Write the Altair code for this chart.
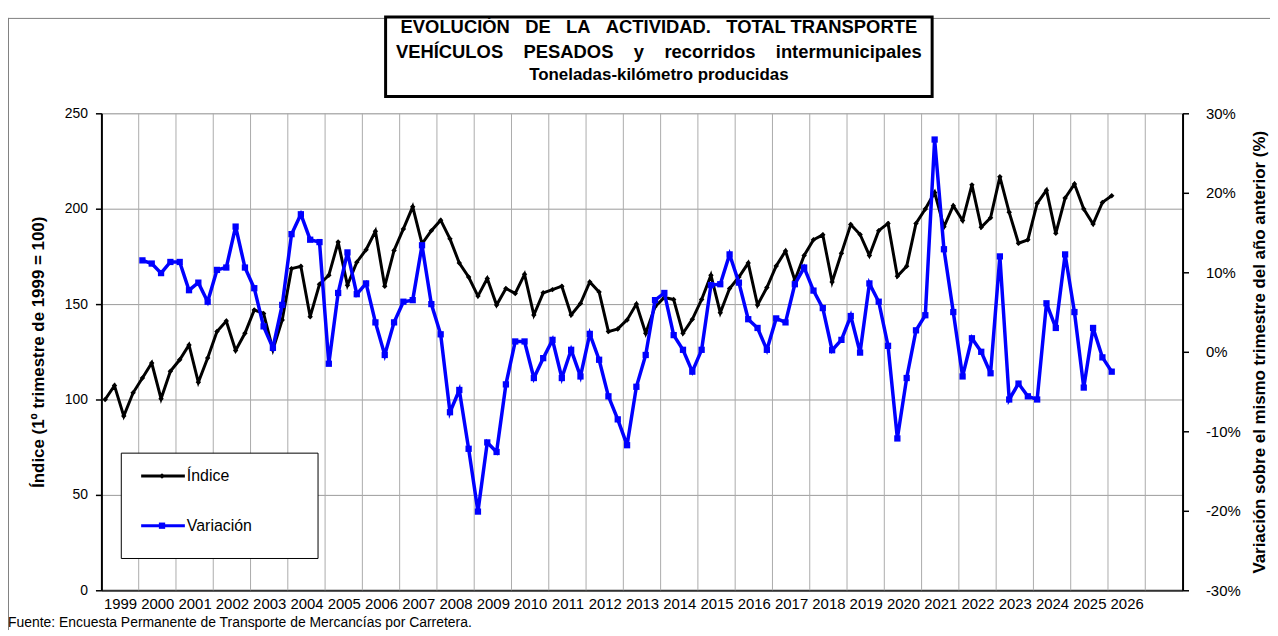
import altair as alt
import pandas as pd

# ---------------- data ----------------
label_years = list(range(1999, 2027))

indice = [
    100, 107.3, 91.3, 103.5,      # 1999
    111.3, 119.1, 100.4, 114.8,   # 2000
    120.8, 128.6, 109.0, 121.7,   # 2001
    135.6, 141.1, 125.7, 134.7,   # 2002
    146.9, 145.1, 126.0, 141.7,   # 2003
    168.6, 169.8, 143.4, 160.4,   # 2004
    165.1, 182.5, 159.9, 172.0,   # 2005
    178.5, 188.2, 159.4, 178.1,   # 2006
    189.4, 201.0, 181.6, 188.5,   # 2007
    194.0, 184.2, 171.5, 164.2,   # 2008
    154.2, 163.4, 149.5, 158.2,   # 2009
    155.6, 165.6, 144.3, 155.9,   # 2010
    157.6, 159.4, 144.3, 150.3,   # 2011
    161.6, 156.4, 135.6, 137.0,   # 2012
    141.7, 150.0, 134.7, 148.6,   # 2013
    153.5, 152.4, 134.7, 142.0,   # 2014
    152.4, 165.1, 145.5, 158.2,   # 2015
    164.2, 171.5, 149.5, 158.7,   # 2016
    170.0, 177.8, 162.5, 175.5,   # 2017
    183.7, 186.3, 161.6, 176.7,   # 2018
    191.7, 186.5, 175.5, 188.5,   # 2019
    192.3, 164.6, 169.8, 192.3,   # 2020
    199.8, 208.5, 190.5, 201.6,   # 2021
    193.8, 212.5, 190.3, 195.2,   # 2022
    216.7, 198.1, 181.9, 183.7,   # 2023
    202.8, 209.7, 187.1, 205.6,   # 2024
    212.9, 199.8, 192.0, 203.3,   # 2025
    206.8,                        # 2026
]

variacion = [
    11.5, 11.1, 9.9, 11.3,        # 2000
    11.3, 7.75, 8.7, 6.3,         # 2001
    10.3, 10.6, 15.75, 10.6,      # 2002
    8.0, 3.2, 0.5, 5.9,           # 2003
    14.8, 17.3, 14.1, 13.8,       # 2004
    -1.5, 7.4, 12.5, 7.25,        # 2005
    8.6, 3.7, -0.4, 3.7,          # 2006
    6.3, 6.5, 13.4, 6.0,          # 2007
    2.2, -7.6, -4.8, -12.2,       # 2008
    -20.1, -11.4, -12.6, -4.1,    # 2009
    1.3, 1.3, -3.3, -0.8,         # 2010
    1.5, -3.3, 0.25, -3.1,        # 2011
    2.25, -1.0, -5.6, -8.5,       # 2012
    -11.75, -4.4, -0.4, 6.5,      # 2013
    7.4, 2.1, 0.25, -2.5,         # 2014
    0.25, 8.4, 8.5, 12.25,        # 2015
    8.7, 4.1, 3.0, 0.25,          # 2016
    4.2, 3.7, 8.5, 10.6,          # 2017
    7.7, 5.5, 0.2, 1.5,           # 2018
    4.5, -0.1, 8.6, 6.3,          # 2019
    0.75, -10.9, -3.3, 2.7,       # 2020
    4.6, 26.7, 12.9, 5.0,         # 2021
    -3.1, 1.7, 0.0, -2.7,         # 2022
    12.0, -6.0, -4.0, -5.6,       # 2023
    -6.0, 6.1, 3.0, 12.25,        # 2024
    5.0, -4.5, 3.0, -0.7,         # 2025
    -2.5,                         # 2026
]

NB = "\u00a0"
title_lines = [
    (NB * 3).join(["EVOLUCIÓN", "DE", "LA", "ACTIVIDAD.", "TOTAL TRANSPORTE"]),
    (NB * 4).join(["VEHÍCULOS", "PESADOS", "y", "recorridos", "intermunicipales"]),
    "Toneladas-kilómetro producidas",
]
title_sizes = [18.5, 18.5, 17]
left_title = "Índice (1º trimestre de 1999 = 100)"
right_title = "Variación sobre el mismo trimestre del año anterior (%)"
source_text = "Fuente: Encuesta Permanente de Transporte de Mercancías por Carretera."
legend_names = ["Índice", "Variación"]

# ---------------- tables ----------------
df_i = pd.DataFrame({"t": [1999 + k / 4 for k in range(len(indice))], "v": indice})
df_v = pd.DataFrame({"t": [2000 + k / 4 for k in range(len(variacion))], "v": variacion})
grid_pos = [y - 0.1 for y in label_years[1:]] + [label_years[-1] + 0.9]
label_pos = [y + 0.4 for y in label_years]
one = pd.DataFrame({"a": [0]})

W, H = 1088, 480
FONT = "Liberation Sans"
BLUE = "#0000FF"

x_enc = alt.X(
    "t:Q",
    scale=alt.Scale(domain=[1998.9, 2027.9], nice=False, zero=False),
    axis=alt.Axis(
        values=label_pos, labelExpr="floor(datum.value)", grid=False, ticks=False,
        domainColor="#333333", domainWidth=2, labelFontSize=15, labelColor="black",
        labelOverlap=False, labelFlush=False, labelPadding=6, title=None, labelFont=FONT,
    ),
)

grid = alt.Chart(pd.DataFrame({"t": grid_pos})).mark_rule(
    color="#ababab", strokeWidth=1
).encode(x=x_enc, y=alt.value(0), y2=alt.value(H))

black = alt.Chart(df_i).mark_line(
    color="black", strokeWidth=3,
    point=alt.OverlayMarkDef(shape="diamond", filled=True, size=30, color="black"),
).encode(
    x=x_enc,
    y=alt.Y(
        "v:Q",
        scale=alt.Scale(domain=[0, 250], nice=False, zero=False),
        axis=alt.Axis(
            values=[0, 50, 100, 150, 200, 250], grid=True, gridColor="#9a9a9a", gridWidth=1,
            domainColor="black", domainWidth=2, tickColor="black", tickSize=6, tickWidth=1.5,
            labelFontSize=14, labelPadding=8, labelColor="black", labelFont=FONT,
            title=left_title, titleFontSize=17, titleFontWeight="bold", titleColor="black",
            titleFont=FONT, titlePadding=17,
        ),
    ),
)

blue = alt.Chart(df_v).mark_line(
    color=BLUE, strokeWidth=3.5,
    point=alt.OverlayMarkDef(shape="square", filled=True, size=40, color=BLUE),
).encode(
    x=x_enc,
    y=alt.Y(
        "v:Q",
        scale=alt.Scale(domain=[-30, 30], nice=False, zero=False),
        axis=alt.Axis(
            orient="right", values=[-30, -20, -10, 0, 10, 20, 30],
            labelExpr="datum.value + '%'", grid=False,
            domainColor="black", domainWidth=2, tickColor="black", tickSize=6, tickWidth=1.5,
            labelFontSize=15, labelPadding=17, labelColor="black", labelFont=FONT,
            title=right_title, titleFontSize=17, titleFontWeight="bold", titleColor="black",
            titleFont=FONT, titlePadding=28, titleAngle=270,
        ),
    ),
)

# ---------------- decorations ----------------
frame_l = alt.Chart(one).mark_rule(color="#808080", strokeWidth=1).encode(
    x=alt.value(-93.5), y=alt.value(-96), y2=alt.value(520))
frame_t = alt.Chart(one).mark_rule(color="#808080", strokeWidth=1).encode(
    x=alt.value(-94), x2=alt.value(1176), y=alt.value(-95.5))

title_box = alt.Chart(one).mark_rect(
    fill="white", stroke="black", strokeWidth=3
).encode(x=alt.value(286), x2=alt.value(836), y=alt.value(-97), y2=alt.value(-17))

title_y = [-87, -62, -39]
title_marks = [
    alt.Chart(one).mark_text(
        font=FONT, fontSize=fs, fontWeight="bold", color="black", align="center", baseline="middle"
    ).encode(x=alt.value(561), y=alt.value(yy), text=alt.value(tx))
    for tx, yy, fs in zip(title_lines, title_y, title_sizes)
]

leg_box = alt.Chart(one).mark_rect(
    fill="white", stroke="black", strokeWidth=1
).encode(x=alt.value(20), x2=alt.value(218), y=alt.value(342), y2=alt.value(448))

leg_marks = []
for name, col, shp, sz, yy in [
    (legend_names[0], "black", "diamond", 30, 365),
    (legend_names[1], BLUE, "square", 40, 415),
]:
    leg_marks.append(alt.Chart(one).mark_rule(color=col, strokeWidth=3).encode(
        x=alt.value(40), x2=alt.value(84), y=alt.value(yy)))
    leg_marks.append(alt.Chart(one).mark_point(shape=shp, filled=True, size=sz, color=col, opacity=1).encode(
        x=alt.value(61), y=alt.value(yy)))
    leg_marks.append(alt.Chart(one).mark_text(
        font=FONT, fontSize=16, color="black", align="left", baseline="middle"
    ).encode(x=alt.value(86), y=alt.value(yy), text=alt.value(name)))

source = alt.Chart(one).mark_text(
    font=FONT, fontSize=14, color="black", align="left", baseline="middle"
).encode(x=alt.value(-94), y=alt.value(513), text=alt.value(source_text))

chart = alt.layer(
    grid, black, blue, frame_l, frame_t, title_box, *title_marks, leg_box, *leg_marks, source
).resolve_scale(y="independent").properties(
    width=W, height=H,
    autosize=alt.AutoSizeParams(type="none"),
    padding={"left": 94, "top": 104, "right": 88, "bottom": 40},
).configure_view(stroke=None).configure(background="white")

chart.save("out.html", embed_options={"renderer": "svg", "actions": False})
